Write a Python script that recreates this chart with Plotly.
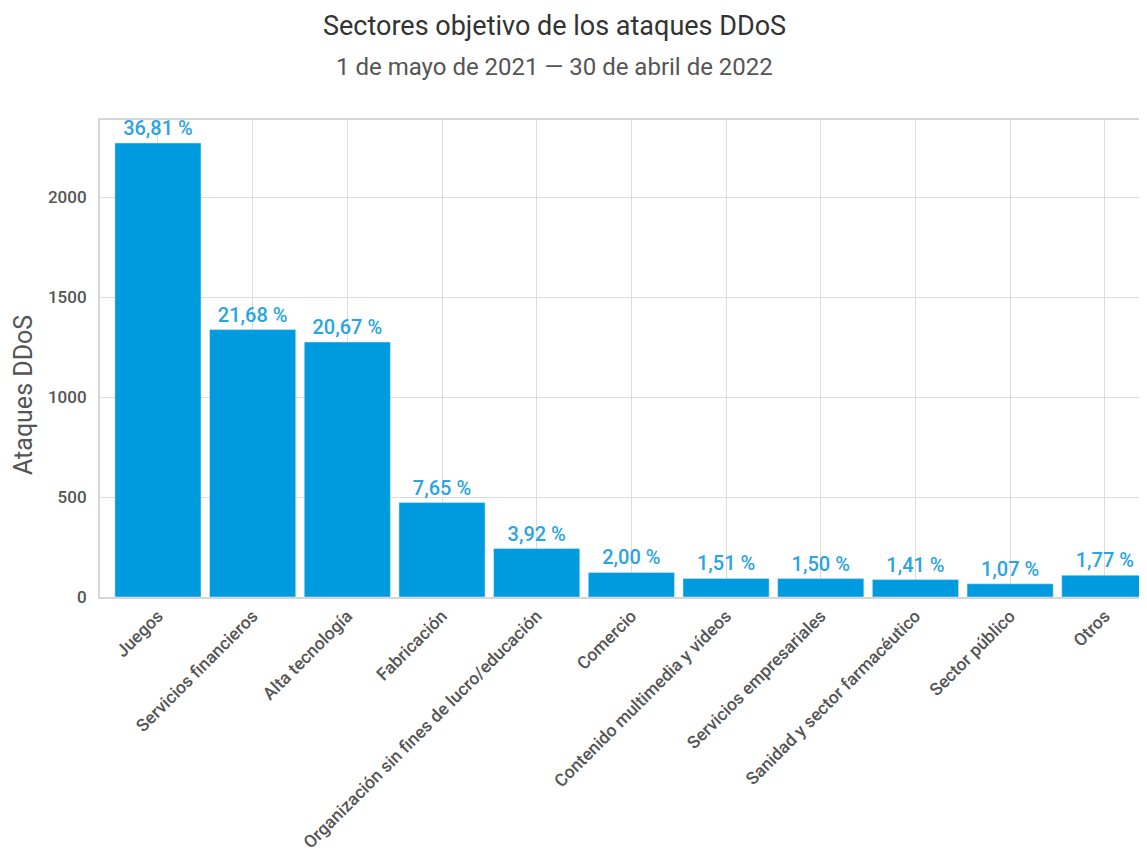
import plotly.graph_objects as go

categories = ["Juegos", "Servicios financieros", "Alta tecnología", "Fabricación",
              "Organización sin fines de lucro/educación", "Comercio",
              "Contenido multimedia y vídeos", "Servicios empresariales",
              "Sanidad y sector farmacéutico", "Sector público", "Otros"]
attacks = [2270, 1337, 1275, 472, 242, 123, 93, 92, 87, 66, 109]
percent_labels = ["36,81 %", "21,68 %", "20,67 %", "7,65 %", "3,92 %", "2,00 %",
                  "1,51 %", "1,50 %", "1,41 %", "1,07 %", "1,77 %"]
y_ticks = [0, 500, 1000, 1500, 2000]

W, H = 1147, 857
L, R, T, B = 92, 0, 112, 268
OFF = 8  # page offset of the figure

fig = go.Figure(go.Bar(
    x=categories, y=attacks, text=percent_labels, textposition="outside",
    marker=dict(color="#009bde"), cliponaxis=False,
    textfont=dict(family="Roboto", size=20, color="#2aa4e2", weight=500),
))

def paper_xy(px, py):
    fx, fy = px - OFF, py - OFF
    return (fx - L) / (W - L - R), (H - B - fy) / (H - T - B)

tx, ty = paper_xy(554, 26)
sx, sy = paper_xy(554, 67)
yx, yy = paper_xy(23, 395)

fig.update_layout(
    width=W, height=H,
    margin=dict(l=L, r=R, t=T, b=B),
    plot_bgcolor="white", paper_bgcolor="white",
    bargap=0.09,
    showlegend=False,
    annotations=[
        dict(text="Sectores objetivo de los ataques DDoS", x=tx, y=ty, xref="paper", yref="paper",
             xanchor="center", yanchor="middle", showarrow=False,
             font=dict(family="Roboto", size=27, color="#333333")),
        dict(text="1 de mayo de 2021 — 30 de abril de 2022", x=sx, y=sy, xref="paper", yref="paper",
             xanchor="center", yanchor="middle", showarrow=False,
             font=dict(family="Roboto", size=24, color="#555555")),
        dict(text="Ataques DDoS", x=yx, y=yy, xref="paper", yref="paper", textangle=-90,
             xanchor="center", yanchor="middle", showarrow=False,
             font=dict(family="Roboto", size=25, color="#555555")),
    ],
)

fig.update_xaxes(
    range=[-0.612, 10.53], tickangle=-45,
    tickfont=dict(family="Roboto", size=17.5, color="#555555", weight=500),
    showgrid=True, gridcolor="#dcdcdc", gridwidth=1,
    showline=True, linecolor="#d6d6d6", linewidth=2, mirror=True,
    ticks="",
)
fig.update_yaxes(
    range=[0, 2385], tickvals=y_ticks,
    tickfont=dict(family="Roboto", size=17, color="#555555", weight=500),
    showgrid=True, gridcolor="#dcdcdc", gridwidth=1,
    showline=True, linecolor="#d6d6d6", linewidth=2,
    zeroline=False, ticks="", ticklabelstandoff=8,
)

fig.write_html("out.html")
